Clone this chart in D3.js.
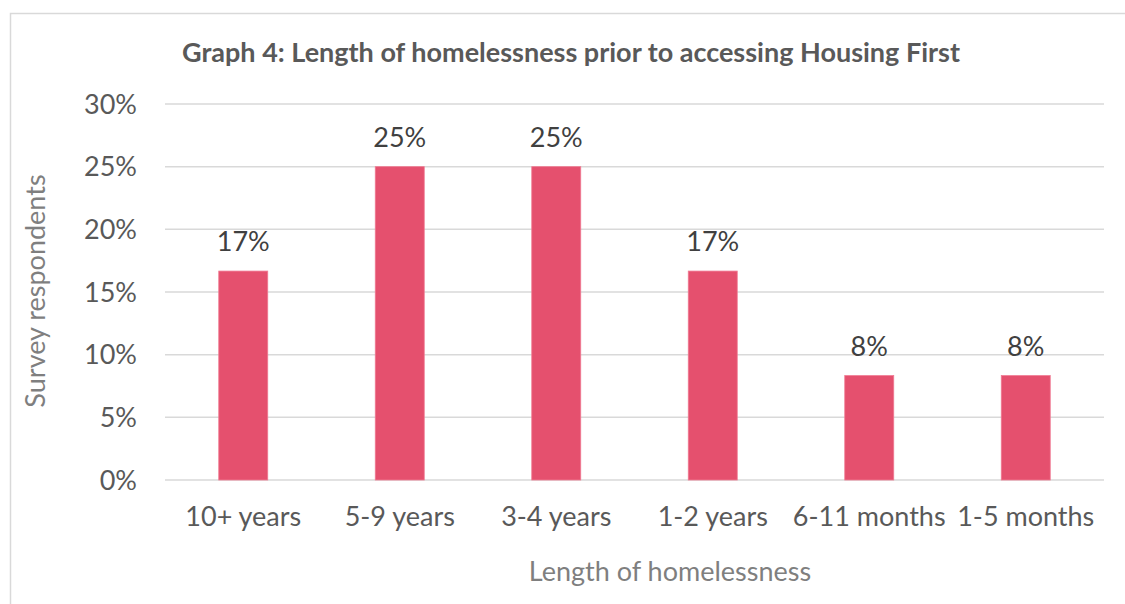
<!DOCTYPE html>
<html><head><meta charset="utf-8">
<script src="https://cdn.jsdelivr.net/npm/d3@7"></script>
<style>body{margin:0;background:#fff}svg{display:block}</style>
</head><body>
<svg id="c" width="1125" height="604"></svg>
<script>
const categories = ["10+ years","5-9 years","3-4 years","1-2 years","6-11 months","1-5 months"];
const values = [0.1667,0.25,0.25,0.1667,0.0833,0.0833];
const labels = ["17%","25%","25%","17%","8%","8%"];
const yTicks = [0,0.05,0.10,0.15,0.20,0.25,0.30];
const title = "Graph 4: Length of homelessness prior to accessing Housing First";
const yTitle = "Survey respondents";
const xTitle = "Length of homelessness";

const svg = d3.select("#c");
const font = "Lato, 'Open Sans', sans-serif";
svg.append("rect").attr("x",10.5).attr("y",13.5).attr("width",1130).attr("height",600)
  .attr("fill","#fff").attr("stroke","#d9d9d9").attr("stroke-width",1.5);

const x = d3.scaleBand().domain(categories).range([165,1104]).padding(0);
const y = d3.scaleLinear().domain([0,0.30]).range([480,104]);

svg.append("g").selectAll("line").data(yTicks).join("line")
  .attr("x1",165).attr("x2",1104).attr("y1",d=>y(d)).attr("y2",d=>y(d))
  .attr("stroke","#d9d9d9").attr("stroke-width",1.5);

svg.append("g").selectAll("text").data(yTicks).join("text")
  .attr("x",137).attr("y",d=>y(d)+9.5).attr("text-anchor","end")
  .attr("font-family",font).attr("font-size",27).attr("fill","#595959")
  .text(d=>d3.format(".0%")(d));

const bw = x.bandwidth()*0.313;
svg.append("g").selectAll("rect").data(values).join("rect")
  .attr("x",(d,i)=>x(categories[i])+x.bandwidth()/2-bw/2)
  .attr("y",d=>y(d)).attr("width",bw).attr("height",d=>y(0)-y(d))
  .attr("fill","#E5506E").attr("stroke","#F07A92").attr("stroke-width",0.8);

svg.append("g").selectAll("text").data(values).join("text")
  .attr("x",(d,i)=>x(categories[i])+x.bandwidth()/2)
  .attr("y",d=>y(d)-20).attr("text-anchor","middle")
  .attr("font-family",font).attr("font-size",27).attr("fill","#404040")
  .text((d,i)=>labels[i]);

svg.append("g").selectAll("text").data(categories).join("text")
  .attr("x",d=>x(d)+x.bandwidth()/2).attr("y",526).attr("text-anchor","middle")
  .attr("font-family",font).attr("font-size",27).attr("fill","#595959")
  .text(d=>d);

svg.append("text").attr("x",571).attr("y",62).attr("text-anchor","middle")
  .attr("font-family",font).attr("font-weight","bold").attr("font-size",27).attr("fill","#595959")
  .text(title);

svg.append("text").attr("transform","translate(45,291) rotate(-90)").attr("text-anchor","middle")
  .attr("font-family",font).attr("font-size",27).attr("fill","#7f7f7f").text(yTitle);

svg.append("text").attr("x",670).attr("y",581).attr("text-anchor","middle")
  .attr("font-family",font).attr("font-size",27).attr("fill","#7f7f7f").text(xTitle);
</script>
</body></html>
